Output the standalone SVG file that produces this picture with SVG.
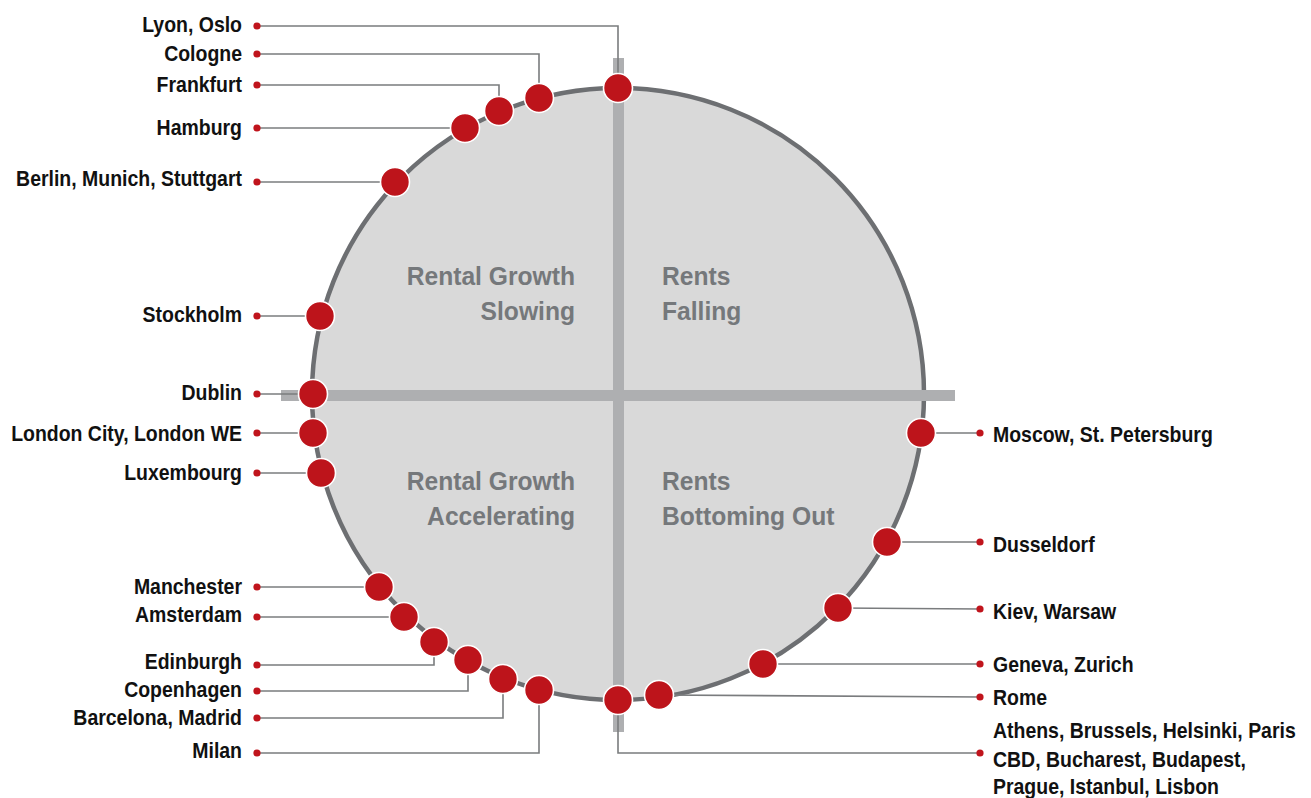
<svg xmlns="http://www.w3.org/2000/svg" width="1311" height="798" viewBox="0 0 1311 798">
  <style>
    .lbl { font-family: "Liberation Sans", Arial, sans-serif; font-weight: bold; font-size: 21.5px; fill: #111111; }
    .quad { font-family: "Liberation Sans", Arial, sans-serif; font-weight: bold; font-size: 26.5px; fill: #75787b; }
    .end { text-anchor: end; }
    .conn { fill: none; stroke: #7a7c7e; stroke-width: 1.6; }
    .tip { fill: #c0141c; }
    .pin { fill: #bd141b; stroke: #ffffff; stroke-width: 1.6; }
    .bar { fill: #aeafb1; }
  </style>

  <!-- cycle wheel -->
  <g id="wheel">
    <circle cx="618" cy="394" r="306" fill="#d9d9d9" stroke="#6d6f72" stroke-width="4.5"/>
    <rect class="bar" x="281" y="390" width="674" height="11"/>
    <rect class="bar" x="613" y="58" width="11" height="674"/>
  </g>

  <!-- quadrant titles -->
  <g id="quadrants">
    <text class="quad end" transform="translate(575,285) scale(0.93,1)">Rental Growth</text>
    <text class="quad end" transform="translate(575,320) scale(0.93,1)">Slowing</text>
    <text class="quad" transform="translate(662,285) scale(0.93,1)">Rents</text>
    <text class="quad" transform="translate(662,320) scale(0.93,1)">Falling</text>
    <text class="quad end" transform="translate(575,490) scale(0.93,1)">Rental Growth</text>
    <text class="quad end" transform="translate(575,525) scale(0.93,1)">Accelerating</text>
    <text class="quad" transform="translate(662,490) scale(0.93,1)">Rents</text>
    <text class="quad" transform="translate(662,525) scale(0.93,1)">Bottoming Out</text>
  </g>

  <!-- leader lines -->
  <g id="connectors">
    <polyline class="conn" points="257,26 618,26 618,88"/>
    <polyline class="conn" points="257,54 539,54 539,98"/>
    <polyline class="conn" points="257,85 499,85 499,111"/>
    <polyline class="conn" points="257,128 465,128"/>
    <polyline class="conn" points="257,182 395,182"/>
    <polyline class="conn" points="257,316 320,316"/>
    <polyline class="conn" points="257,394 313,394"/>
    <polyline class="conn" points="257,433 313,433"/>
    <polyline class="conn" points="257,473 321,473"/>
    <polyline class="conn" points="257,587 379,587"/>
    <polyline class="conn" points="257,617 404,617"/>
    <polyline class="conn" points="257,665 434,665 434,642"/>
    <polyline class="conn" points="257,691 468,691 468,660"/>
    <polyline class="conn" points="257,718 503,718 503,679"/>
    <polyline class="conn" points="257,753 539,753 539,690"/>
    <polyline class="conn" points="618,700 618,753 980,753"/>
    <polyline class="conn" points="659,695 980,697"/>
    <polyline class="conn" points="763,664 980,664"/>
    <polyline class="conn" points="838,608 980,609"/>
    <polyline class="conn" points="887,542 980,542"/>
    <polyline class="conn" points="921,433 980,433"/>
    <g>
      <circle class="tip" cx="257" cy="26" r="3.6"/>
      <circle class="tip" cx="257" cy="54" r="3.6"/>
      <circle class="tip" cx="257" cy="85" r="3.6"/>
      <circle class="tip" cx="257" cy="128" r="3.6"/>
      <circle class="tip" cx="257" cy="182" r="3.6"/>
      <circle class="tip" cx="257" cy="316" r="3.6"/>
      <circle class="tip" cx="257" cy="394" r="3.6"/>
      <circle class="tip" cx="257" cy="433" r="3.6"/>
      <circle class="tip" cx="257" cy="473" r="3.6"/>
      <circle class="tip" cx="257" cy="587" r="3.6"/>
      <circle class="tip" cx="257" cy="617" r="3.6"/>
      <circle class="tip" cx="257" cy="665" r="3.6"/>
      <circle class="tip" cx="257" cy="691" r="3.6"/>
      <circle class="tip" cx="257" cy="718" r="3.6"/>
      <circle class="tip" cx="257" cy="753" r="3.6"/>
      <circle class="tip" cx="980" cy="433" r="3.6"/>
      <circle class="tip" cx="980" cy="542" r="3.6"/>
      <circle class="tip" cx="980" cy="609" r="3.6"/>
      <circle class="tip" cx="980" cy="664" r="3.6"/>
      <circle class="tip" cx="980" cy="697" r="3.6"/>
      <circle class="tip" cx="980" cy="753" r="3.6"/>
    </g>
  </g>

  <!-- city markers on the wheel with labels -->
  <g id="lyon-oslo"><circle class="pin" cx="618" cy="88" r="14.5"/><text class="lbl end" transform="translate(242,32) scale(0.905,1)">Lyon, Oslo</text></g>
  <g id="cologne"><circle class="pin" cx="539" cy="98" r="14.5"/><text class="lbl end" transform="translate(242,61) scale(0.905,1)">Cologne</text></g>
  <g id="frankfurt"><circle class="pin" cx="499" cy="111" r="14.5"/><text class="lbl end" transform="translate(242,92) scale(0.905,1)">Frankfurt</text></g>
  <g id="hamburg"><circle class="pin" cx="465" cy="128" r="14.5"/><text class="lbl end" transform="translate(242,135) scale(0.905,1)">Hamburg</text></g>
  <g id="berlin-munich-stuttgart"><circle class="pin" cx="395" cy="182" r="14.5"/><text class="lbl end" transform="translate(242,186) scale(0.905,1)">Berlin, Munich, Stuttgart</text></g>
  <g id="stockholm"><circle class="pin" cx="320" cy="316" r="14.5"/><text class="lbl end" transform="translate(242,322) scale(0.905,1)">Stockholm</text></g>
  <g id="dublin"><circle class="pin" cx="313" cy="394" r="14.5"/><text class="lbl end" transform="translate(242,400) scale(0.905,1)">Dublin</text></g>
  <g id="london"><circle class="pin" cx="313" cy="433" r="14.5"/><text class="lbl end" transform="translate(242,441) scale(0.905,1)">London City, London WE</text></g>
  <g id="luxembourg"><circle class="pin" cx="321" cy="473" r="14.5"/><text class="lbl end" transform="translate(242,480) scale(0.905,1)">Luxembourg</text></g>
  <g id="manchester"><circle class="pin" cx="379" cy="587" r="14.5"/><text class="lbl end" transform="translate(242,594) scale(0.905,1)">Manchester</text></g>
  <g id="amsterdam"><circle class="pin" cx="404" cy="617" r="14.5"/><text class="lbl end" transform="translate(242,622) scale(0.905,1)">Amsterdam</text></g>
  <g id="edinburgh"><circle class="pin" cx="434" cy="642" r="14.5"/><text class="lbl end" transform="translate(242,669) scale(0.905,1)">Edinburgh</text></g>
  <g id="copenhagen"><circle class="pin" cx="468" cy="660" r="14.5"/><text class="lbl end" transform="translate(242,697) scale(0.905,1)">Copenhagen</text></g>
  <g id="barcelona-madrid"><circle class="pin" cx="503" cy="679" r="14.5"/><text class="lbl end" transform="translate(242,725) scale(0.905,1)">Barcelona, Madrid</text></g>
  <g id="milan"><circle class="pin" cx="539" cy="690" r="14.5"/><text class="lbl end" transform="translate(242,758) scale(0.905,1)">Milan</text></g>
  <g id="athens-group"><circle class="pin" cx="618" cy="700" r="14.5"/>
    <text class="lbl" transform="translate(993,738) scale(0.905,1)">Athens, Brussels, Helsinki, Paris</text>
    <text class="lbl" transform="translate(993,767) scale(0.905,1)">CBD, Bucharest, Budapest,</text>
    <text class="lbl" transform="translate(993,794) scale(0.905,1)">Prague, Istanbul, Lisbon</text>
  </g>
  <g id="rome"><circle class="pin" cx="659" cy="695" r="14.5"/><text class="lbl" transform="translate(993,705) scale(0.905,1)">Rome</text></g>
  <g id="geneva-zurich"><circle class="pin" cx="763" cy="664" r="14.5"/><text class="lbl" transform="translate(993,672) scale(0.905,1)">Geneva, Zurich</text></g>
  <g id="kiev-warsaw"><circle class="pin" cx="838" cy="608" r="14.5"/><text class="lbl" transform="translate(993,619) scale(0.905,1)">Kiev, Warsaw</text></g>
  <g id="dusseldorf"><circle class="pin" cx="887" cy="542" r="14.5"/><text class="lbl" transform="translate(993,552) scale(0.905,1)">Dusseldorf</text></g>
  <g id="moscow-st-petersburg"><circle class="pin" cx="921" cy="433" r="14.5"/><text class="lbl" transform="translate(993,442) scale(0.905,1)">Moscow, St. Petersburg</text></g>
</svg>
